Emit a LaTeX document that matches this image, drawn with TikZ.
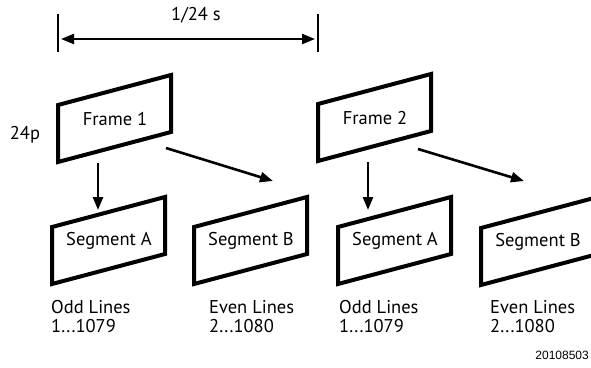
\documentclass[tikz,border=0pt]{standalone}
\usepackage{fontspec}
\setmainfont{PT Sans}
\newfontfamily\numfont{Liberation Sans}
\usetikzlibrary{arrows.meta}
\newcommand{\pgbox}[4]{% name, x, y (bottom-left), text
  \coordinate (#1-bl) at (#2,#3);
  \coordinate (#1-tl) at (#2,#3-57);
  \coordinate (#1-tr) at (#2+113,#3-87);
  \coordinate (#1-br) at (#2+113,#3-30);
  \draw[pbox] (#1-bl) -- (#1-tl) -- (#1-tr) -- (#1-br) -- cycle;
  \node[lbl] (#1) at (#2+57,#3-43) {#4};
}
\begin{document}
\begin{tikzpicture}[x=1pt,y=-1pt,
  pbox/.style={line width=4pt, line join=miter},
  arr/.style={line width=2.6pt, -{Triangle[length=13pt,width=10pt]}},
  dimarr/.style={line width=2.2pt, {Triangle[length=13pt,width=10pt]}-{Triangle[length=13pt,width=10pt]}},
  tick/.style={line width=1.8pt},
  lbl/.style={font=\fontsize{18.5}{21}\selectfont, inner sep=0pt},
  note/.style={font=\fontsize{18.5}{19}\selectfont, inner sep=0pt, align=left, anchor=north west}]
\useasboundingbox (0,0) rectangle (591,367);
\clip (0,0) rectangle (591,367);
% time span
\coordinate (t1a) at (58,14); \coordinate (t1b) at (58,52);
\coordinate (t2a) at (318,14); \coordinate (t2b) at (318,52);
\draw[tick] (t1a) -- (t1b);
\draw[tick] (t2a) -- (t2b);
\coordinate (d1) at (61,39); \coordinate (d2) at (315,39);
\draw[dimarr] (d1) -- (d2);
\node[lbl] (span) at (196,15) {1/24 s};
\node[lbl] (rate) at (25,135) {24p};
% frames
\pgbox{f1}{58}{162}{Frame 1}
\pgbox{f2}{318}{161}{Frame 2}
% segments
\pgbox{sa1}{52}{284}{Segment A}
\pgbox{sb1}{194}{284}{Segment B}
\pgbox{sa2}{338}{284}{Segment A}
\pgbox{sb2}{481}{285}{Segment B}
% arrows
\coordinate (a1s) at (98,163); \coordinate (a1e) at (98,210);
\coordinate (b1s) at (166,148); \coordinate (b1e) at (273,181);
\coordinate (a2s) at (368,162); \coordinate (a2e) at (368,210);
\coordinate (b2s) at (418,149); \coordinate (b2e) at (524,181);
\draw[arr] (a1s) -- (a1e);
\draw[arr] (b1s) -- (b1e);
\draw[arr] (a2s) -- (a2e);
\draw[arr] (b2s) -- (b2e);
% line notes
\node[note] (n1) at (51,300) {Odd Lines\\1...1079};
\node[note] (n2) at (209,300) {Even Lines\\2...1080};
\node[note] (n3) at (339,300) {Odd Lines\\1...1079};
\node[note] (n4) at (490,300) {Even Lines\\2...1080};
\node[font=\numfont\fontsize{12}{14}\selectfont, anchor=east, inner sep=0pt] (id) at (589,355) {20108503};
\end{tikzpicture}
\end{document}
